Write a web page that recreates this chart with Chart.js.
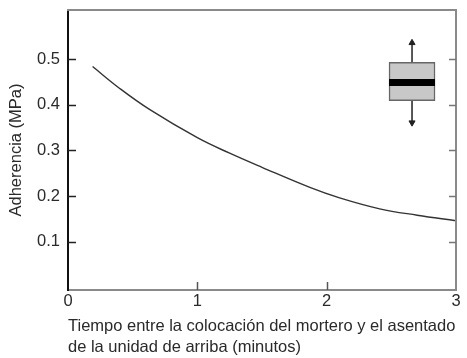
<!DOCTYPE html>
<html><head><meta charset="utf-8">
<script src="https://cdn.jsdelivr.net/npm/chart.js@4"></script>
<style>html,body{margin:0;padding:0;background:#fff}</style>
</head><body>
<canvas id="c" width="467" height="358"></canvas>
<script>
// ---- data ----
const curveX = [0.19, 0.40, 0.63, 1.00, 1.25, 1.50, 1.87, 2.10, 2.41, 2.70, 3.00];
const curveY = [0.484, 0.436, 0.390, 0.328, 0.294, 0.263, 0.219, 0.196, 0.172, 0.158, 0.146];
const boxX = 2.66;
const boxQ1 = 0.409;
const boxQ3 = 0.493;
const boxMedian = 0.449;
const boxMin = 0.361;
const boxMax = 0.536;
const xTicks = [0, 1, 2, 3];
const yTicks = [0.1, 0.2, 0.3, 0.4, 0.5];
const xTitle = ['Tiempo entre la colocación del mortero y el asentado', 'de la unidad de arriba (minutos)'];
const yTitle = 'Adherencia (MPa)';

const TXT = '#2a2a2a';
Chart.defaults.font.family = '"Liberation Sans", Arial, sans-serif';

const frame = {
  id: 'frameTicks',
  afterDraw(chart) {
    const ctx = chart.ctx;
    const area = chart.chartArea;
    const xs = chart.scales.x, ys = chart.scales.y;
    ctx.save();
    ctx.lineWidth = 2;
    ctx.strokeStyle = '#8a8a8a';
    ctx.beginPath();
    ctx.moveTo(area.left - 1, area.top);
    ctx.lineTo(area.right, area.top);
    ctx.lineTo(area.right, area.bottom);
    ctx.stroke();
    ctx.lineWidth = 1.5;
    ctx.strokeStyle = '#222';
    yTicks.forEach(v => {
      const p = Math.round(ys.getPixelForValue(v)) + 0.5;
      ctx.beginPath(); ctx.moveTo(area.left, p); ctx.lineTo(area.left + 8, p); ctx.stroke();
    });
    ctx.strokeStyle = '#777';
    yTicks.forEach(v => {
      const p = Math.round(ys.getPixelForValue(v)) + 0.5;
      ctx.beginPath(); ctx.moveTo(area.right, p); ctx.lineTo(area.right - 7, p); ctx.stroke();
    });
    ctx.strokeStyle = '#555';
    xTicks.slice(1, -1).forEach(v => {
      const p = Math.round(xs.getPixelForValue(v)) + 0.5;
      ctx.beginPath(); ctx.moveTo(p, area.bottom); ctx.lineTo(p, area.bottom - 8); ctx.stroke();
    });
    ctx.restore();
  }
};

new Chart(document.getElementById('c'), {
  type: 'line',
  data: {
    datasets: [
      { type: 'line', data: [{x: boxX, y: boxMedian}], showLine: false,
        pointStyle: 'line', pointRadius: 23, pointHoverRadius: 23, pointBorderWidth: 7,
        pointBorderColor: '#000', pointBackgroundColor: '#000' },
      { type: 'bar', data: [{x: boxX, y: [boxQ1, boxQ3]}], backgroundColor: '#c8c8c8',
        borderColor: '#666', borderWidth: 1.5, borderSkipped: false, barThickness: 46, grouped: false },
      { type: 'line', data: [{x: boxX, y: boxQ3}, {x: boxX, y: boxMax}], borderColor: '#222', borderWidth: 1.5,
        pointRadius: [0, 3.5], pointStyle: 'triangle', pointRotation: 0,
        pointBackgroundColor: '#222', pointBorderColor: '#222', pointBorderWidth: 1 },
      { type: 'line', data: [{x: boxX, y: boxQ1}, {x: boxX, y: boxMin}], borderColor: '#222', borderWidth: 1.5,
        pointRadius: [0, 3.5], pointStyle: 'triangle', pointRotation: 180,
        pointBackgroundColor: '#222', pointBorderColor: '#222', pointBorderWidth: 1 },
      { type: 'line', data: curveX.map((v, i) => ({x: v, y: curveY[i]})), borderColor: '#333',
        borderWidth: 1.4, pointRadius: 0, tension: 0.4, fill: false }
    ]
  },
  options: {
    responsive: false,
    animation: false,
    events: [],
    layout: { autoPadding: false, padding: { left: 0, right: 11, top: 10, bottom: 0 } },
    plugins: { legend: { display: false }, tooltip: { enabled: false } },
    scales: {
      x: {
        type: 'linear', min: 0, max: 3, offset: false,
        afterBuildTicks: s => { s.ticks = xTicks.map(v => ({value: v})); },
        afterFit: s => { s.height = 68; s.paddingLeft = 0; s.paddingRight = 0; },
        grid: { display: false, drawTicks: false },
        border: { display: true, color: '#8a8a8a', width: 2 },
        ticks: { padding: 2, color: TXT, font: { size: 16.5 }, maxRotation: 0, autoSkip: false,
                 callback: v => String(v) },
        title: { display: true, text: xTitle, align: 'start', color: TXT,
                 font: { size: 16.5, lineHeight: 1.27 }, padding: { top: 0, bottom: 0.5 } }
      },
      y: {
        type: 'linear', min: -0.006, max: 0.608,
        afterBuildTicks: s => { s.ticks = yTicks.map(v => ({value: v})); },
        afterFit: s => { s.width = 68; s.paddingTop = 0; s.paddingBottom = 0; },
        grid: { display: false, drawTicks: false },
        border: { display: true, color: '#111', width: 2 },
        ticks: { padding: 8, color: TXT, font: { size: 16.5 }, autoSkip: false,
                 callback: v => Number(v).toFixed(1) },
        title: { display: true, text: yTitle, color: TXT,
                 font: { size: 16.5 }, padding: { top: 6.6, bottom: 0 } }
      }
    }
  },
  plugins: [frame]
});
</script>
</body></html>
